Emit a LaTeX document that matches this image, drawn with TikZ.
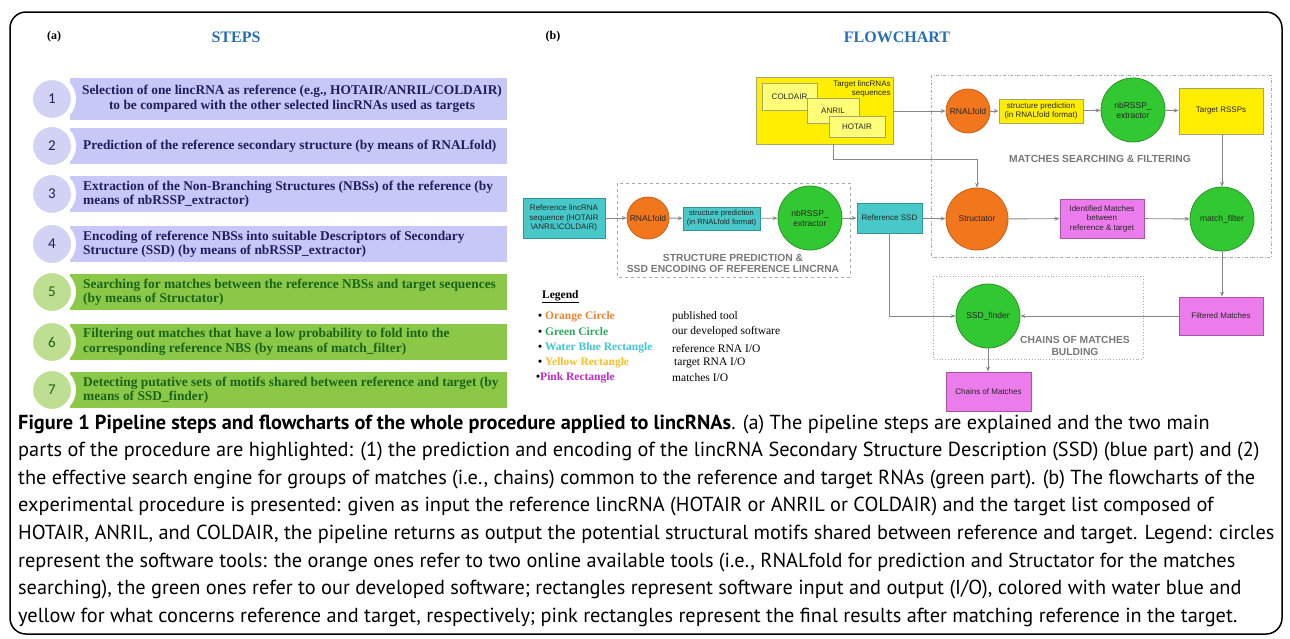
\documentclass[tikz,border=0pt]{standalone}
\usepackage{fontspec}
\setmainfont{Liberation Serif}
\newfontfamily\capfont{PT Sans}
\newfontfamily\flowfont{Liberation Sans}
\newfontfamily\numfont{Carlito}
\usetikzlibrary{arrows.meta}

\definecolor{stepblue}{RGB}{200,200,248}
\definecolor{stepbluec}{RGB}{210,210,244}
\definecolor{stepgreen}{RGB}{140,200,72}
\definecolor{stepgreenc}{RGB}{190,222,146}
\definecolor{navytext}{RGB}{30,30,95}
\definecolor{greentext}{RGB}{25,100,25}
\definecolor{titleblue}{RGB}{40,110,180}
\definecolor{orangefill}{RGB}{242,118,28}
\definecolor{orangeline}{RGB}{200,95,25}
\definecolor{greenfill}{RGB}{50,200,50}
\definecolor{greenline}{RGB}{40,150,40}
\definecolor{cyanfill}{RGB}{72,200,200}
\definecolor{cyanline}{RGB}{45,150,150}
\definecolor{yellowfill}{RGB}{255,238,0}
\definecolor{yellowlight}{RGB}{255,255,120}
\definecolor{yellowline}{RGB}{165,165,110}
\definecolor{pinkfill}{RGB}{236,124,236}
\definecolor{pinkline}{RGB}{165,85,165}
\definecolor{arrowgray}{RGB}{135,135,135}
\definecolor{boxgray}{RGB}{170,170,170}
\definecolor{labelgray}{RGB}{120,120,120}
\definecolor{legorange}{RGB}{240,130,50}
\definecolor{leggreen}{RGB}{40,170,90}
\definecolor{legcyan}{RGB}{60,200,210}
\definecolor{legyellow}{RGB}{250,190,40}
\definecolor{legpink}{RGB}{195,40,200}

\tikzset{
  stepnum/.style={circle, minimum size=43pt, inner sep=0pt, draw=white, line width=5pt,
    font=\numfont\fontsize{15}{15}\selectfont},
  steptext/.style={anchor=west, align=left, inner sep=0pt, font=\bfseries\fontsize{13.4}{14.5}\selectfont},
  tool/.style={circle, inner sep=0pt, line width=0.8pt, align=center, text=black!85,
    font=\flowfont\fontsize{8.5}{10}\selectfont},
  io/.style={rectangle, inner sep=0pt, line width=0.8pt, align=center, text=black!85,
    font=\flowfont\fontsize{8}{9.5}\selectfont},
  orangetool/.style={tool, fill=orangefill, draw=orangeline},
  greentool/.style={tool, fill=greenfill, draw=greenline},
  refio/.style={io, fill=cyanfill, draw=cyanline},
  tgtio/.style={io, fill=yellowfill, draw=yellowline},
  tgtsub/.style={io, fill=yellowlight, draw=yellowline},
  matchio/.style={io, fill=pinkfill, draw=pinkline},
  flow/.style={draw=arrowgray, line width=0.9pt, -{Stealth[length=5pt,width=4pt]}},
  grouplabel/.style={text=labelgray, align=center, font=\flowfont\bfseries\fontsize{10.3}{11.5}\selectfont},
  legitem/.style={anchor=west, inner sep=0pt, font=\bfseries\fontsize{11.5}{11.5}\selectfont},
  legdesc/.style={anchor=west, inner sep=0pt, font=\fontsize{11.5}{11.5}\selectfont},
  capline/.style={anchor=base west, inner sep=0pt, font=\capfont\fontsize{20.3}{20.3}\selectfont},
}

\begin{document}
\begin{tikzpicture}[x=1pt,y=-1pt]
\useasboundingbox (0,0) rectangle (1290,638);
\draw[line width=1.5pt, rounded corners=16pt] (10,12) rectangle (1282,634);

% (a) steps
\node[font=\bfseries\fontsize{12}{12}\selectfont] (laba) at (54,37) {(a)};
\node[font=\bfseries\fontsize{16}{16}\selectfont, text=titleblue] (steps) at (236,37) {STEPS};

\fill[stepblue] (70,78) rectangle (507,120);
\fill[stepblue] (70,128) rectangle (507,164);
\fill[stepblue] (70,176) rectangle (507,212);
\fill[stepblue] (70,226) rectangle (507,262);
\fill[stepgreen] (70,274) rectangle (507,310);
\fill[stepgreen] (70,324) rectangle (507,360);
\fill[stepgreen] (70,372) rectangle (507,408);

\node[stepnum, fill=stepbluec, text=navytext] (c1) at (52,99) {1};
\node[stepnum, fill=stepbluec, text=navytext] (c2) at (52,146) {2};
\node[stepnum, fill=stepbluec, text=navytext] (c3) at (52,194) {3};
\node[stepnum, fill=stepbluec, text=navytext] (c4) at (52,244) {4};
\node[stepnum, fill=stepgreenc, text=greentext] (c5) at (52,292) {5};
\node[stepnum, fill=stepgreenc, text=greentext] (c6) at (52,342) {6};
\node[stepnum, fill=stepgreenc, text=greentext] (c7) at (52,390) {7};

\node[steptext, text=navytext, anchor=center, align=center] (t1) at (292,99)
  {Selection of one lincRNA as reference (e.g., HOTAIR/ANRIL/COLDAIR)\\
   to be compared with the other selected lincRNAs used as targets};
\node[steptext, text=navytext] (t2) at (83,146)
  {Prediction of the reference secondary structure (by means of RNALfold)};
\node[steptext, text=navytext] (t3) at (83,194)
  {Extraction of the Non-Branching Structures (NBSs) of the reference (by\\
   means of nbRSSP\_extractor)};
\node[steptext, text=navytext] (t4) at (83,244)
  {Encoding of reference NBSs into suitable Descriptors of Secondary\\
   Structure (SSD) (by means of nbRSSP\_extractor)};
\node[steptext, text=greentext] (t5) at (83,292)
  {Searching for matches between the reference NBSs and target sequences\\
   (by means of Structator)};
\node[steptext, text=greentext] (t6) at (83,342)
  {Filtering out matches that have a low probability to fold into the\\
   corresponding reference NBS (by means of match\_filter)};
\node[steptext, text=greentext] (t7) at (83,390)
  {Detecting putative sets of motifs shared between reference and target (by\\
   means of SSD\_finder)};

% (b) flowchart
\node[font=\bfseries\fontsize{12}{12}\selectfont] (labb) at (553,37) {(b)};
\node[font=\bfseries\fontsize{16}{16}\selectfont, text=titleblue] (flowchart) at (897,37) {FLOWCHART};

\draw[boxgray, dashed, line width=0.8pt] (617,183) rectangle (850,277);
\draw[boxgray, dash dot, line width=0.8pt] (931,75) rectangle (1271,257);
\draw[boxgray, dotted, line width=0.8pt] (933,276) rectangle (1143,359);
\node[grouplabel] (grpref) at (733,263.5) {STRUCTURE PREDICTION \&\\SSD ENCODING OF REFERENCE LINCRNA};
\node[grouplabel] (grpmatch) at (1100,159) {MATCHES SEARCHING \& FILTERING};
\node[grouplabel] (grpchain) at (1075,346) {CHAINS OF MATCHES\\BULDING};

\node[refio, minimum width=82pt, minimum height=40pt] (refseq) at (564,218)
  {Reference lincRNA\\sequence (HOTAIR\\\textbackslash ANRIL\textbackslash COLDAIR)};
\node[orangetool, minimum size=42pt] (rfoldref) at (648,218) {RNALfold};
\node[refio, minimum width=77pt, minimum height=23pt, font=\flowfont\fontsize{7.6}{9}\selectfont] (predref) at (721.5,218.5)
  {structure prediction\\(in RNALfold format)};
\node[greentool, minimum size=64pt] (nbref) at (810,218) {nbRSSP\_\\extractor};
\node[refio, minimum width=65pt, minimum height=30pt] (refssd) at (889.5,218) {Reference SSD};

\node[tgtio, minimum width=137pt, minimum height=67pt] (targets) at (824.5,110.5) {};
\node[io, anchor=north east, align=right] (tgttitle) at (891,80)
  {Target lincRNAs\\sequences};
\node[tgtsub, minimum width=55pt, minimum height=27pt] (coldair) at (789.5,96.5) {COLDAIR};
\node[tgtsub, minimum width=52pt, minimum height=25pt] (anril) at (833,110.5) {ANRIL};
\node[tgtsub, minimum width=56pt, minimum height=21pt] (hotair) at (857,126.5) {HOTAIR};

\node[orangetool, minimum size=44pt] (rfoldtgt) at (968,111) {RNALfold};
\node[tgtio, minimum width=84pt, minimum height=24pt] (predtgt) at (1041,111)
  {structure prediction\\(in RNALfold format)};
\node[greentool, minimum size=64pt] (nbtgt) at (1133,110) {nbRSSP\_\\extractor};
\node[tgtio, minimum width=84pt, minimum height=46pt] (tgtrssp) at (1221,111) {Target RSSPs};

\node[orangetool, minimum size=62pt] (structator) at (977,219) {Structator};
\node[matchio, minimum width=84pt, minimum height=39pt] (identified) at (1102,218.5)
  {Identified Matches\\between\\reference \& target};
\node[greentool, minimum size=64pt] (matchfilter) at (1222,219) {match\_filter};
\node[matchio, minimum width=84pt, minimum height=38pt] (filtered) at (1221,316) {Filtered Matches};
\node[greentool, minimum size=64pt] (ssdfinder) at (988,316) {SSD\_finder};
\node[matchio, minimum width=85pt, minimum height=39pt] (chains) at (988.5,391.5) {Chains of Matches};

\coordinate (tgtdrop) at (833,159);
\draw[flow] (refseq) -- (rfoldref);
\draw[flow] (rfoldref) -- (predref);
\draw[flow] (predref) -- (nbref);
\draw[flow] (nbref) -- (refssd);
\draw[flow] (refssd) -- (structator);
\draw[flow] (refssd.south) |- (ssdfinder.west);
\draw[flow] (targets.east |- rfoldtgt.west) -- (rfoldtgt.west);
\draw[flow] (rfoldtgt) -- (predtgt);
\draw[flow] (predtgt) -- (nbtgt);
\draw[flow] (nbtgt) -- (tgtrssp);
\draw[flow] (tgtdrop |- targets.south) -- (tgtdrop) -| (structator.north);
\draw[flow] (structator) -- (identified);
\draw[flow] (identified) -- (matchfilter);
\draw[flow] (tgtrssp.south -| matchfilter.north) -- (matchfilter.north);
\draw[flow] (matchfilter.south) -- (matchfilter.south |- filtered.north);
\draw[flow] (filtered) -- (ssdfinder);
\draw[flow] (ssdfinder) -- (ssdfinder.south |- chains.north);

% legend
\node[anchor=west, inner sep=0pt, font=\bfseries\fontsize{11.5}{11.5}\selectfont] (legend) at (542,297) {\underline{Legend}};
\node[legitem, text=legorange] (legor) at (538,317) {{\color{black}\textbullet} Orange Circle};
\node[legitem, text=leggreen] (leggr) at (538,332) {{\color{black}\textbullet} Green Circle};
\node[legitem, text=legcyan] (legwb) at (538,348) {{\color{black}\textbullet} Water Blue Rectangle};
\node[legitem, text=legyellow] (legye) at (538,363) {{\color{black}\textbullet} Yellow Rectangle};
\node[legitem, text=legpink] (legpk) at (536,378) {{\color{black}\textbullet}Pink Rectangle};
\node[legdesc] (descor) at (672,317) {published tool};
\node[legdesc] (descgr) at (672,332) {our developed software};
\node[legdesc] (descwb) at (672,348) {reference RNA I/O};
\node[legdesc] (descye) at (674,363) {target RNA I/O};
\node[legdesc] (descpk) at (672,378) {matches I/O};

% caption
\node[capline] (cap1) at (18,429) {\textbf{Figure 1 Pipeline steps and flowcharts of the whole procedure applied to lincRNAs}. (a) The pipeline steps are explained and the two main};
\node[capline] (cap2) at (18,456.6) {parts of the procedure are highlighted: (1) the prediction and encoding of the lincRNA Secondary Structure Description (SSD) (blue part) and (2)};
\node[capline] (cap3) at (18,484.2) {the effective search engine for groups of matches (i.e., chains) common to the reference and target RNAs (green part). (b) The flowcharts of the};
\node[capline] (cap4) at (18,511.8) {experimental procedure is presented: given as input the reference lincRNA (HOTAIR or ANRIL or COLDAIR) and the target list composed of};
\node[capline] (cap5) at (18,539.4) {HOTAIR, ANRIL, and COLDAIR, the pipeline returns as output the potential structural motifs shared between reference and target. Legend: circles};
\node[capline] (cap6) at (18,567) {represent the software tools: the orange ones refer to two online available tools (i.e., RNALfold for prediction and Structator for the matches};
\node[capline] (cap7) at (18,594.6) {searching), the green ones refer to our developed software; rectangles represent software input and output (I/O), colored with water blue and};
\node[capline] (cap8) at (18,622.2) {yellow for what concerns reference and target, respectively; pink rectangles represent the final results after matching reference in the target.};
\end{tikzpicture}
\end{document}
